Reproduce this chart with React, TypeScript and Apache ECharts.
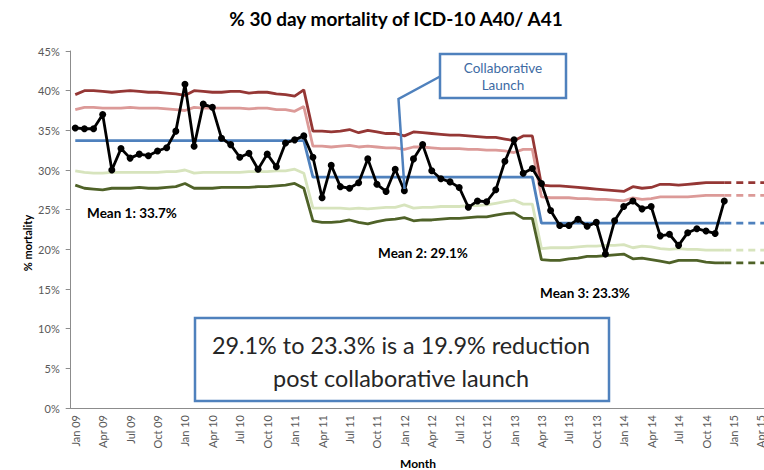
import React, { useEffect, useRef } from "react";
import * as echarts from "echarts";

const MONTHS = ["Jan", "Feb", "Mar", "Apr", "May", "Jun", "Jul", "Aug", "Sep", "Oct", "Nov", "Dec"];
const YEARS = ["09", "10", "11", "12", "13", "14", "15"];
const MONTH_COUNT = 78; // Jan 09 .. Jun 15 (axis runs past the picture edge)

// % 30 day mortality, Jan 09 .. Dec 14
const mortality = [
  35.3, 35.2, 35.2, 37.0, 30.0, 32.7, 31.5, 32.0, 31.8, 32.4,
  32.8, 34.9, 40.8, 33.0, 38.3, 37.9, 34.0, 33.2, 31.6, 32.1,
  30.1, 32.0, 30.4, 33.4, 33.8, 34.3, 31.6, 26.5, 30.6, 27.9,
  27.7, 28.4, 31.4, 28.2, 27.3, 30.1, 27.4, 31.4, 33.2, 29.9,
  28.9, 28.5, 27.8, 25.3, 26.1, 26.0, 27.5, 31.1, 33.8, 29.6,
  30.2, 28.3, 24.9, 23.0, 23.0, 23.8, 22.9, 23.4, 19.4, 23.6,
  25.4, 26.1, 25.1, 25.4, 21.7, 21.9, 20.5, 22.1, 22.6, 22.3,
  22.0, 26.1,
];

// Phase means and the month index each phase starts at
const phaseMeans = [33.7, 29.1, 23.3];
const phaseStarts = [0, 26, 51];

// Upper control limit (3 sigma)
const ucl3 = [
  39.5, 40.0, 40.0, 39.9, 39.8, 39.9, 40.0, 39.9, 39.8, 39.8,
  39.7, 39.6, 39.4, 40.0, 39.9, 39.8, 39.8, 39.9, 39.9, 39.7,
  39.8, 39.8, 39.6, 39.5, 39.3, 40.1,
  34.9, 34.9, 34.8, 34.9, 35.1, 34.7, 35.0, 34.8, 34.6, 34.6,
  34.3, 34.8, 34.7, 34.6, 34.5, 34.4, 34.4, 34.3, 34.2, 34.1,
  34.1, 33.9, 33.7, 34.3, 34.3,
  28.1, 28.0, 28.0, 27.9, 27.8, 27.7, 27.6, 27.5, 27.4, 27.3,
  27.9, 27.7, 27.8, 28.2, 28.2, 28.1, 28.2, 28.3, 28.4, 28.4,
  28.4,
];

// Upper warning limit (2 sigma)
const ucl2 = [
  37.6, 37.9, 37.9, 37.8, 37.8, 37.8, 37.9, 37.8, 37.8, 37.8,
  37.7, 37.6, 37.5, 37.9, 37.8, 37.8, 37.8, 37.8, 37.8, 37.7,
  37.8, 37.8, 37.6, 37.6, 37.4, 38.0,
  33.0, 33.0, 32.9, 33.0, 33.1, 32.9, 33.0, 32.9, 32.8, 32.8,
  32.6, 32.9, 32.9, 32.8, 32.7, 32.7, 32.7, 32.6, 32.6, 32.5,
  32.5, 32.4, 32.2, 32.6, 32.6,
  26.6, 26.5, 26.5, 26.5, 26.4, 26.4, 26.3, 26.3, 26.2, 26.1,
  26.5, 26.3, 26.4, 26.6, 26.6, 26.6, 26.6, 26.7, 26.8, 26.8,
  26.8,
];

// Lower warning limit (2 sigma)
const lcl2 = [
  29.9, 29.7, 29.6, 29.6, 29.7, 29.7, 29.7, 29.7, 29.7, 29.7,
  29.8, 29.8, 30.0, 29.6, 29.7, 29.7, 29.7, 29.7, 29.7, 29.8,
  29.8, 29.8, 29.9, 29.9, 30.1, 29.6,
  25.2, 25.2, 25.2, 25.2, 25.1, 25.2, 25.1, 25.2, 25.3, 25.3,
  25.6, 25.2, 25.3, 25.3, 25.4, 25.4, 25.4, 25.5, 25.5, 25.6,
  25.8, 26.0, 26.2, 25.7, 25.7,
  20.1, 20.2, 20.2, 20.2, 20.3, 20.4, 20.4, 20.5, 20.5, 20.6,
  20.2, 20.4, 20.3, 20.1, 20.0, 20.1, 20.0, 20.0, 19.9, 19.9,
  19.9,
];

// Lower control limit (3 sigma)
const lcl3 = [
  28.1, 27.7, 27.6, 27.5, 27.7, 27.7, 27.7, 27.8, 27.7, 27.7,
  27.8, 27.9, 28.3, 27.7, 27.7, 27.7, 27.8, 27.8, 27.8, 27.8,
  27.9, 27.9, 28.0, 28.1, 28.3, 27.7,
  23.6, 23.4, 23.4, 23.5, 23.7, 23.4, 23.2, 23.5, 23.7, 23.8,
  24.0, 23.6, 23.7, 23.7, 23.8, 23.9, 23.9, 24.0, 24.1, 24.1,
  24.3, 24.5, 24.6, 23.9, 23.9,
  18.7, 18.6, 18.6, 18.8, 18.9, 19.1, 19.1, 19.2, 19.3, 19.4,
  18.8, 18.9, 18.7, 18.5, 18.3, 18.6, 18.6, 18.6, 18.4, 18.3,
  18.3,
];

const meanLabels = ["Mean 1: 33.7%", "Mean 2: 29.1%", "Mean 3: 23.3%"];
const titleText = "% 30 day mortality of ICD-10 A40/ A41";
const calloutLines = ["Collaborative", "Launch"];
const boxLines = ["29.1% to 23.3% is a 19.9% reduction", "post collaborative launch"];

const COLORS = {
  ucl3: "#953735",
  ucl2: "#dc9a98",
  lcl2: "#d7e4bd",
  lcl3: "#4f6228",
  mean: "#4f81bd",
  data: "#000000",
};

const FONT = "Lato, 'Liberation Sans', sans-serif";

export default function App() {
  const ref = useRef<HTMLDivElement>(null);

  useEffect(() => {
    if (!ref.current) return;
    const chart = echarts.init(ref.current, null, { renderer: "svg" });

    const categories: string[] = [];
    for (let i = 0; i < MONTH_COUNT; i++) {
      categories.push(`${MONTHS[i % 12]} ${YEARS[Math.floor(i / 12)]}`);
    }

    const n = mortality.length;
    const meanSeries: number[] = [];
    for (let i = 0; i < n; i++) {
      let p = 0;
      for (let k = 0; k < phaseStarts.length; k++) if (i >= phaseStarts[k]) p = k;
      meanSeries.push(phaseMeans[p]);
    }

    const extend = (arr: number[]) => {
      const out: (number | null)[] = [];
      for (let i = 0; i < MONTH_COUNT; i++) out.push(i >= arr.length - 1 ? arr[arr.length - 1] : null);
      return out;
    };

    const solid = (name: string, data: (number | null)[], color: string, z = 2) => ({
      name,
      type: "line",
      data,
      showSymbol: false,
      symbol: "none",
      lineStyle: { color, width: 2.8 },
      z,
      silent: true,
    });
    const dashed = (name: string, data: (number | null)[], color: string) => ({
      name,
      type: "line",
      data,
      showSymbol: false,
      symbol: "none",
      lineStyle: { color, width: 2.8, type: [7, 5] },
      z: 2,
      silent: true,
    });

    const label = (text: string, x: number, y: number) => ({
      type: "text",
      x,
      y,
      style: { text, font: `bold 13.5px ${FONT}`, fill: "#000", textAlign: "center", textVerticalAlign: "middle" },
    });

    const option = {
      animation: false,
      grid: { left: 70.7, top: 51, width: 713, height: 357, containLabel: false },
      xAxis: {
        type: "category",
        data: categories,
        boundaryGap: true,
        axisLine: { lineStyle: { color: "#8c8c8c", width: 1 } },
        axisTick: { interval: 2, length: 5, lineStyle: { color: "#8c8c8c" } },
        axisLabel: {
          interval: 2,
          rotate: 90,
          fontSize: 11,
          color: "#595959",
          fontFamily: FONT,
          margin: 7,
        },
      },
      yAxis: {
        type: "value",
        min: 0,
        max: 45,
        interval: 5,
        axisLine: { show: true, lineStyle: { color: "#8c8c8c", width: 1 } },
        axisTick: { show: true, length: 5, lineStyle: { color: "#8c8c8c" } },
        splitLine: { show: false },
        axisLabel: {
          formatter: "{value}%",
          fontSize: 11,
          color: "#595959",
          fontFamily: FONT,
          margin: 11,
        },
      },
      series: [
        solid("UCL", ucl3, COLORS.ucl3),
        solid("Upper 2σ", ucl2, COLORS.ucl2),
        solid("Lower 2σ", lcl2, COLORS.lcl2),
        solid("LCL", lcl3, COLORS.lcl3),
        solid("Mean", meanSeries, COLORS.mean),
        dashed("UCL ext", extend(ucl3), COLORS.ucl3),
        dashed("Upper 2σ ext", extend(ucl2), COLORS.ucl2),
        dashed("Lower 2σ ext", extend(lcl2), COLORS.lcl2),
        dashed("LCL ext", extend(lcl3), COLORS.lcl3),
        dashed("Mean ext", extend(meanSeries), COLORS.mean),
        {
          name: "% mortality",
          type: "line",
          data: mortality,
          symbol: "circle",
          symbolSize: 7,
          showSymbol: true,
          showAllSymbol: true,
          itemStyle: { color: COLORS.data },
          lineStyle: { color: COLORS.data, width: 2.8 },
          z: 5,
        },
      ],
      graphic: [
        {
          type: "text",
          x: 396,
          y: 18,
          style: {
            text: titleText,
            font: `bold 19px ${FONT}`,
            fill: "#000",
            textAlign: "center",
            textVerticalAlign: "middle",
          },
        },
        {
          type: "text",
          x: 27,
          y: 243,
          rotation: Math.PI / 2,
          style: {
            text: "% mortality",
            font: `bold 11px ${FONT}`,
            fill: "#000",
            textAlign: "center",
            textVerticalAlign: "middle",
          },
        },
        {
          type: "text",
          x: 418,
          y: 463,
          style: {
            text: "Month",
            font: `bold 12px ${FONT}`,
            fill: "#000",
            textAlign: "center",
            textVerticalAlign: "middle",
          },
        },
        label(meanLabels[0], 132, 213),
        label(meanLabels[1], 423, 253),
        label(meanLabels[2], 585, 293),
        {
          type: "polyline",
          shape: { points: [[440, 76.5], [398.5, 99], [404.5, 189]] },
          style: { stroke: "#4f81bd", lineWidth: 2.5, fill: "none" },
          z: 10,
        },
        {
          type: "rect",
          shape: { x: 440, y: 54, width: 126, height: 44 },
          style: { stroke: "#4f81bd", lineWidth: 2.5, fill: "#fff" },
          z: 10,
        },
        {
          type: "text",
          x: 503,
          y: 68,
          z: 11,
          style: { text: calloutLines[0], font: `13.5px ${FONT}`, fill: "#3d6aa3", textAlign: "center", textVerticalAlign: "middle" },
        },
        {
          type: "text",
          x: 503,
          y: 85,
          z: 11,
          style: { text: calloutLines[1], font: `13.5px ${FONT}`, fill: "#3d6aa3", textAlign: "center", textVerticalAlign: "middle" },
        },
        {
          type: "rect",
          shape: { x: 195, y: 318, width: 414, height: 83 },
          style: { stroke: "#4f81bd", lineWidth: 2.5, fill: "#fff" },
          z: 10,
        },
        {
          type: "text",
          x: 401,
          y: 345,
          z: 11,
          style: { text: boxLines[0], font: `23.4px ${FONT}`, fill: "#262626", textAlign: "center", textVerticalAlign: "middle" },
        },
        {
          type: "text",
          x: 401,
          y: 378,
          z: 11,
          style: { text: boxLines[1], font: `23.4px ${FONT}`, fill: "#262626", textAlign: "center", textVerticalAlign: "middle" },
        },
      ],
    };

    chart.setOption(option as any);
    return () => chart.dispose();
  }, []);

  return (
    <div style={{ position: "absolute", left: 0, top: 0, width: 764, height: 470, overflow: "hidden", background: "#fff" }}>
      <div ref={ref} style={{ width: 800, height: 470 }} />
    </div>
  );
}
